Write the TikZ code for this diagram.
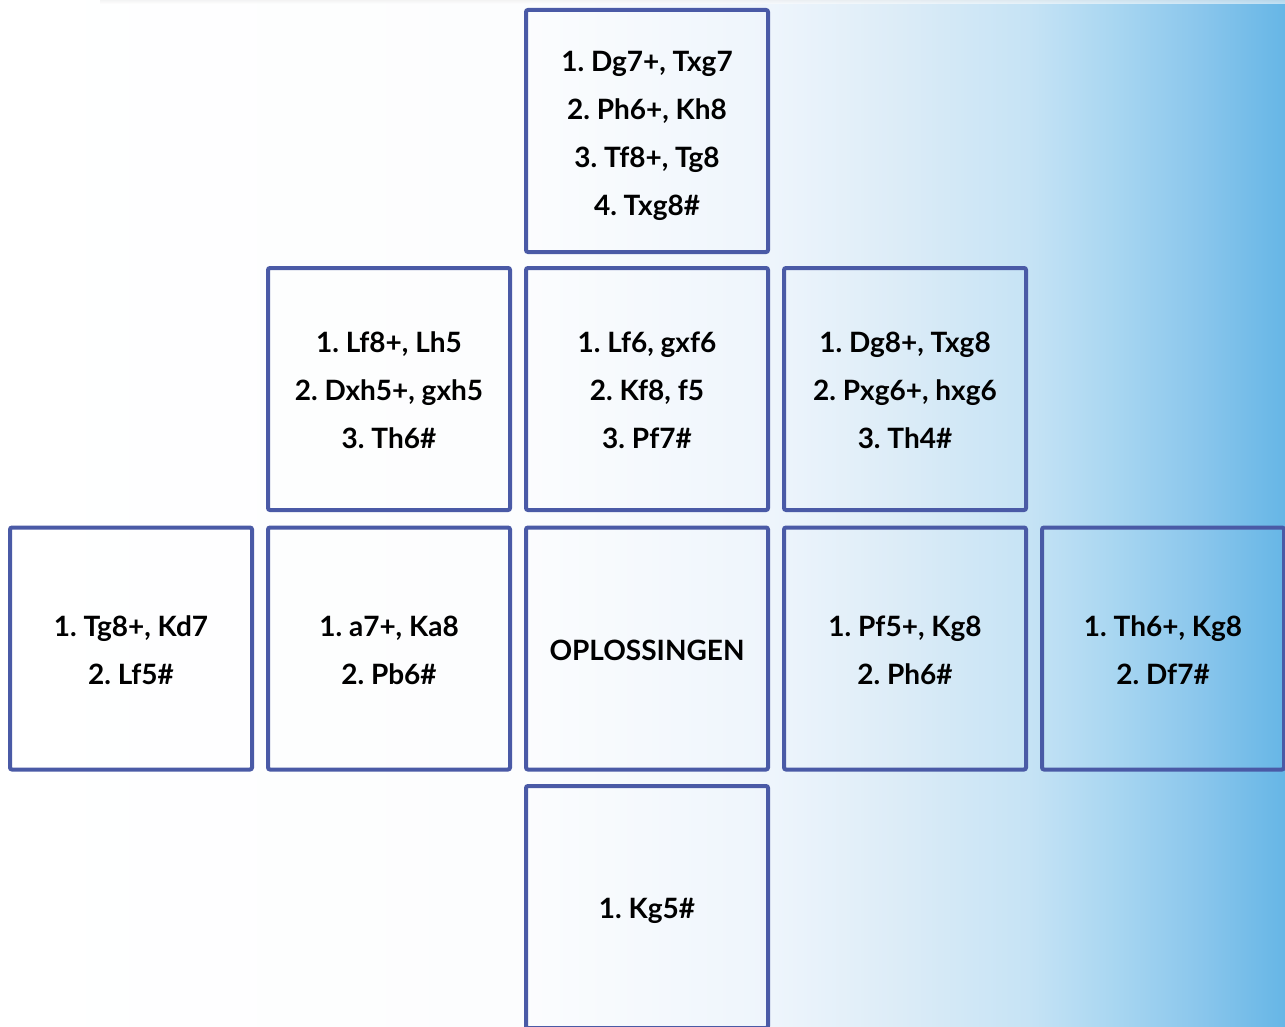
\documentclass[tikz,border=0pt]{standalone}
\usepackage{fontspec}
\setmainfont{Lato}[BoldFont={Lato Bold}]
\definecolor{bordc}{HTML}{4A5AA6}
\definecolor{g1}{HTML}{FCFDFE}
\definecolor{g2}{HTML}{EEF5FC}
\definecolor{g3}{HTML}{DCECF7}
\definecolor{g4}{HTML}{C6E3F5}
\definecolor{g5}{HTML}{A8D6F1}
\definecolor{g55}{HTML}{8AC6EC}
\definecolor{g6}{HTML}{66B6E6}
% path spans 25bp..75bp of the shading
\pgfdeclarehorizontalshading{bggrad}{100bp}{color(0bp)=(white); color(25bp)=(white); color(45bp)=(g1); color(55bp)=(g2); color(60bp)=(g3); color(65bp)=(g4); color(68.4bp)=(g5); color(71.7bp)=(g55); color(75bp)=(g6); color(100bp)=(g6)}
\tikzset{
  cell/.style={draw=bordc, line width=4pt, rounded corners=2pt, minimum width=242pt, minimum height=242pt, inner sep=0pt},
  txt/.style={align=center, inner sep=0pt, font=\fontsize{28}{48}\selectfont\bfseries\frenchspacing, text=black},
}
\begin{document}
\begin{tikzpicture}[x=1pt,y=-1pt]
\useasboundingbox (0,0) rectangle (1285,1027);
\shade[shading=bggrad] (0,0) rectangle (1285,1027);
\shade[top color=black!7, bottom color=white, opacity=0.6] (100,0) rectangle (1285,4);
\node[cell] (top) at (647,131) {};
\node[cell] (ml) at (389,389) {};
\node[cell] (mc) at (647,389) {};
\node[cell] (mr) at (905,389) {};
\node[cell] (r1) at (131,648.5) {};
\node[cell] (r2) at (389,648.5) {};
\node[cell] (r3) at (647,648.5) {};
\node[cell] (r4) at (905,648.5) {};
\node[cell] (r5) at (1163,648.5) {};
\node[cell] (bot) at (647,907) {};
\node[txt] (ttop) at ([yshift=-5pt]top.center) {1. Dg7+, Txg7\\2. Ph6+, Kh8\\3. Tf8+, Tg8\\4. Txg8\#};
\node[txt] (tml) at ([yshift=-1pt]ml.center) {1. Lf8+, Lh5\\2. Dxh5+, gxh5\\3. Th6\#};
\node[txt] (tmc) at ([yshift=-1pt]mc.center) {1. Lf6, gxf6\\2. Kf8, f5\\3. Pf7\#};
\node[txt] (tmr) at ([yshift=-1pt]mr.center) {1. Dg8+, Txg8\\2. Pxg6+, hxg6\\3. Th4\#};
\node[txt] (tr1) at ([yshift=-2pt]r1.center) {1. Tg8+, Kd7\\2. Lf5\#};
\node[txt] (tr2) at ([yshift=-2pt]r2.center) {1. a7+, Ka8\\2. Pb6\#};
\node[txt] (tr3) at ([yshift=-2pt]r3.center) {OPLOSSINGEN};
\node[txt] (tr4) at ([yshift=-2pt]r4.center) {1. Pf5+, Kg8\\2. Ph6\#};
\node[txt] (tr5) at ([yshift=-2pt]r5.center) {1. Th6+, Kg8\\2. Df7\#};
\node[txt] (tbot) at ([yshift=-4pt]bot.center) {1. Kg5\#};
\end{tikzpicture}
\end{document}
